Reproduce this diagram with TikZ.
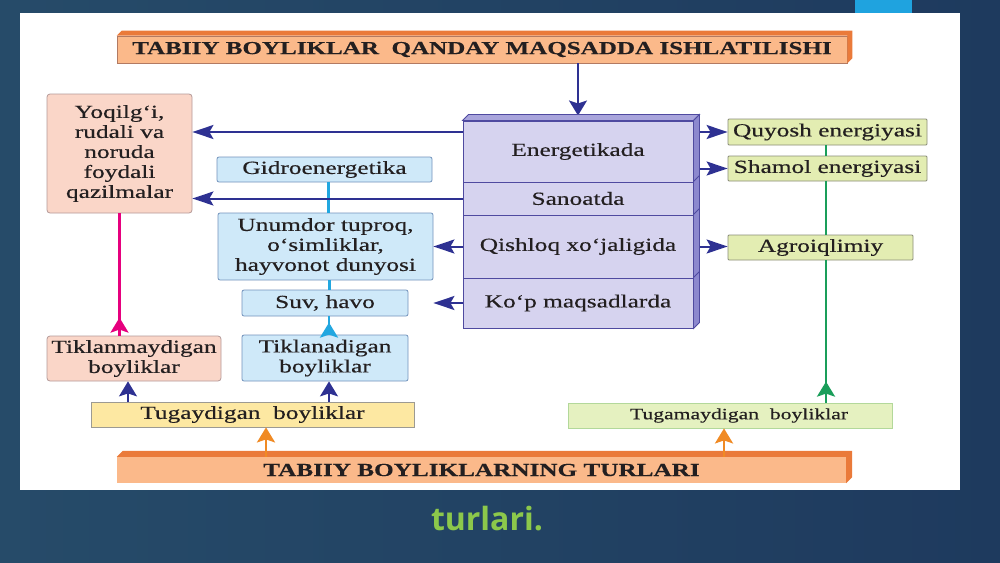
\documentclass[tikz,border=0pt]{standalone}
\usepackage{fontspec}
\setmainfont{Liberation Serif}
\newfontfamily\boxfont[FakeStretch=1.37,FakeBold=0.4]{Liberation Serif}
\newfontfamily\slidefont{Open Sans}
\usepackage{tikz}
\usetikzlibrary{arrows.meta,positioning}
\definecolor{bgleft}{HTML}{264B69}
\definecolor{bgmid}{HTML}{33657E}
\definecolor{bgright}{HTML}{1E3A5E}
\definecolor{accentblue}{HTML}{1FA3DF}
\definecolor{slidegreen}{HTML}{8CC84B}
\definecolor{textdark}{HTML}{231F20}
\definecolor{orangefill}{HTML}{FBB98A}
\definecolor{orangedark}{HTML}{EA7A3A}
\definecolor{orangeline}{HTML}{B27A62}
\definecolor{purplefill}{HTML}{D6D3EF}
\definecolor{purpletop}{HTML}{A9A5DC}
\definecolor{purpleside}{HTML}{8C88CE}
\definecolor{purpleline}{HTML}{4F4AA0}
\definecolor{pinkfill}{HTML}{FAD6C8}
\definecolor{pinkline}{HTML}{B59A98}
\definecolor{bluefill}{HTML}{CFE9F9}
\definecolor{blueline}{HTML}{7393BC}
\definecolor{greenfill}{HTML}{E3EDB2}
\definecolor{greenbox}{HTML}{8A8D78}
\definecolor{yellowfill}{HTML}{FDE8A2}
\definecolor{yellowline}{HTML}{9C9A92}
\definecolor{paleline}{HTML}{B3D89A}
\definecolor{palefill}{HTML}{E5F1C0}
\definecolor{navy}{HTML}{2E3192}
\definecolor{magline}{HTML}{E6007E}
\definecolor{cyanline}{HTML}{22A7E0}
\definecolor{greenline}{HTML}{1A9E5A}
\definecolor{orangearrow}{HTML}{F08A24}

\begin{document}
\begin{tikzpicture}[x=1pt, y=-1pt,
  every node/.style={font=\boxfont\fontsize{18.5}{20}\selectfont, align=center, inner sep=0pt, text=textdark},
  barbox/.style={draw=orangeline, fill=orangefill, line width=0.6pt, font=\boxfont\bfseries\fontsize{18.3}{20}\selectfont},
  rowbox/.style={draw=purpleline, fill=purplefill, line width=1pt, minimum width=230pt},
  pinkbox/.style={draw=pinkline, fill=pinkfill, rounded corners=3pt, line width=0.8pt},
  bluebox/.style={draw=blueline, fill=bluefill, rounded corners=2pt, line width=0.8pt},
  greenbox/.style={draw=greenbox, fill=greenfill, rounded corners=1pt, line width=0.8pt},
  harrow/.style={draw=navy, line width=2pt, -{Stealth[length=21pt,width=14pt,inset=4pt]}},
  varrow/.style={-{Stealth[length=15pt,width=18pt,inset=3pt]}}]
\useasboundingbox (0,0) rectangle (1000,562);
\shade[left color=bgleft, middle color=bgmid, right color=bgright] (0,0) rectangle (1000,562);
\fill[accentblue] (855,0) rectangle (912,13);
\node[font=\slidefont\bfseries\fontsize{32}{38}\selectfont, text=slidegreen] (turlari) at (487,519) {turlari.};
\fill[white] (20,13) rectangle (960,490);

\node[barbox, minimum width=730pt, minimum height=27pt] (title) at (482,49.5) {TABIIY BOYLIKLAR\ \ QANDAY MAQSADDA ISHLATILISHI};
\fill[orangedark] (title.north west) -- ++(5pt,5pt) -- ([shift={(5pt,5pt)}]title.north east) -- ([shift={(5pt,5pt)}]title.south east) -- (title.south east) -- (title.north east) -- cycle;

\node[rowbox, minimum height=61pt] (energ) at (578,151.5) {Energetikada};
\node[rowbox, minimum height=33pt] (sanoat) at (578,198.5) {Sanoatda};
\node[rowbox, minimum height=63pt] (qishloq) at (578,246.5) {Qishloq xo‘jaligida};
\node[rowbox, minimum height=50pt] (kop) at (578,303) {Ko‘p maqsadlarda};

\node[greenbox, minimum width=199pt, minimum height=26pt] (quyosh) at (827.5,132) {Quyosh energiyasi};
\node[greenbox, minimum width=199pt, minimum height=25pt] (shamol) at (827.5,168.5) {Shamol energiyasi};
\node[greenbox, minimum width=185pt, minimum height=25pt] (agro) at (820.5,247.5) {Agroiqlimiy};

\node[pinkbox, minimum width=145pt, minimum height=119pt] (yoqil) at (119.5,153.5) {Yoqilg‘i,\\rudali va\\noruda\\foydali\\qazilmalar};
\node[bluebox, minimum width=215pt, minimum height=25pt] (gidro) at (324.5,169.5) {Gidroenergetika};
\node[bluebox, minimum width=215pt, minimum height=67pt] (unum) at (325.5,246.5) {Unumdor tuproq,\\o‘simliklar,\\hayvonot dunyosi};
\node[bluebox, minimum width=166pt, minimum height=26pt] (suv) at (325,303) {Suv, havo};

\node[pinkbox, minimum width=174pt, minimum height=45pt] (tikm) at (134,358.5) {Tiklanmaydigan\\boyliklar};
\node[bluebox, minimum width=166pt, minimum height=46pt] (tikl) at (325,358) {Tiklanadigan\\boyliklar};
\node[draw=yellowline, fill=yellowfill, line width=0.8pt, minimum width=323pt, minimum height=25pt] (tugay) at (252.5,414.5) {Tugaydigan\ \ boyliklar};
\node[draw=paleline, fill=palefill, line width=0.8pt, minimum width=324pt, minimum height=25pt, font=\boxfont\fontsize{15.8}{18}\selectfont] (tugam) at (730,415.5) {\hspace*{18pt}Tugamaydigan\ \ boyliklar};

\node[fill=orangefill, minimum width=729pt, minimum height=26pt, font=\boxfont\bfseries\fontsize{18.4}{20}\selectfont] (turlar) at (481.5,470) {TABIIY BOYLIKLARNING TURLARI};
\fill[orangedark] (turlar.north west) -- ++(6pt,6pt) -- ([shift={(6pt,6pt)}]turlar.north east) -- ([shift={(6pt,6pt)}]turlar.south east) -- (turlar.south east) -- (turlar.north east) -- cycle;

\draw[cyanline, line width=2.5pt] ([xshift=4pt]gidro.south) -- ([xshift=4pt]gidro.south |- unum.north);
\draw[cyanline, line width=2.5pt] ([xshift=4pt]unum.south) -- ([xshift=4pt]unum.south |- suv.north);
\draw[cyanline, line width=2.5pt] ([xshift=4pt]suv.south) -- ([xshift=4pt]suv.south |- tikl.north);
\draw[cyanline, line width=2.5pt, varrow] ([xshift=4pt]tikl.north) -- ++(0pt,12pt);
\draw[magline, line width=2.5pt] (yoqil.south) -- (yoqil.south |- tikm.north);
\draw[magline, line width=2.5pt, varrow] (yoqil.south |- tikm.north) -- ++(0pt,18pt);
\draw[greenline, line width=2.5pt] ([xshift=-1.5pt]quyosh.south) -- ([xshift=-1.5pt]quyosh.south |- shamol.north);
\draw[greenline, line width=2.5pt] ([xshift=-1.5pt]shamol.south) -- ([xshift=-1.5pt]shamol.south |- agro.north);
\draw[greenline, line width=2.5pt] ([xshift=-1.5pt]quyosh.south |- agro.south) -- ([xshift=-1.5pt]quyosh.south |- tugam.north);
\draw[greenline, line width=2.5pt, varrow] ([xshift=-1.5pt]quyosh.south |- tugam.north) -- ++(0pt,21pt);

\draw[navy, line width=2pt, varrow] ([xshift=-6pt]tikm.south |- tugay.north) -- ([xshift=-6pt]tikm.south);
\draw[navy, line width=2pt, varrow] ([xshift=4pt]tikl.south |- tugay.north) -- ([xshift=4pt]tikl.south);
\draw[orangearrow, line width=2.5pt, varrow] ([xshift=13.5pt]tugay.south |- turlar.north) -- ([xshift=13.5pt]tugay.south);
\draw[orangearrow, line width=2.5pt, varrow] ([xshift=-6pt]tugam.south |- turlar.north) -- ([xshift=-6pt]tugam.south);

\draw[navy, line width=2pt, varrow] (energ.north |- title.south) -- ([yshift=5pt]energ.north);
\draw[harrow] (energ.west |- quyosh.west) -- (yoqil.east |- quyosh.west);
\draw[harrow] (sanoat.west) -- (sanoat.west -| yoqil.east);
\draw[harrow] (qishloq.west) -- (unum.east);
\draw[harrow] (kop.west) -- (kop.west -| unum.east);
\draw[harrow] (energ.east |- quyosh.west) -- (quyosh.west);
\draw[harrow] (energ.east |- shamol.west) -- (shamol.west);
\draw[harrow] (qishloq.east) -- (qishloq.east -| agro.west);

\fill[purpletop, draw=purpleline, line width=0.8pt] (energ.north west) -- ++(6pt,6pt) -- ([shift={(6pt,6pt)}]energ.north east) -- (energ.north east) -- cycle;
\fill[purpleside, draw=purpleline, line width=0.8pt] (energ.north east) -- ++(6pt,6pt) -- ([shift={(6pt,6pt)}]kop.south east) -- (kop.south east) -- cycle;
\draw[purpleline, line width=0.8pt] (sanoat.north east) -- ++(6pt,6pt);
\draw[purpleline, line width=0.8pt] (qishloq.north east) -- ++(6pt,6pt);
\draw[purpleline, line width=0.8pt] (kop.north east) -- ++(6pt,6pt);
\end{tikzpicture}
\end{document}
